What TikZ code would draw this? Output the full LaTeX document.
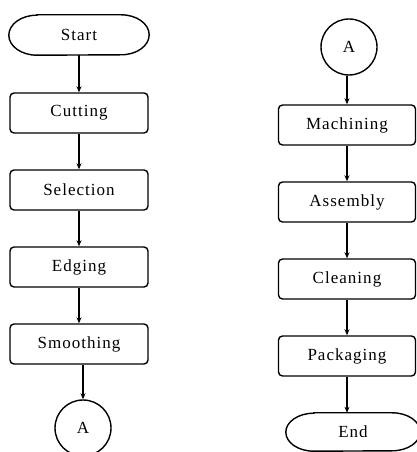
\documentclass[tikz,border=0pt]{standalone}
\usepackage{fontspec}
\setmainfont[LetterSpace=6]{Liberation Serif}
\usetikzlibrary{arrows.meta}
\newcommand\termoutline[1]{%
  \draw[lineset] ([xshift=28pt]#1.north west) -- ([xshift=-28pt]#1.north east)
    arc[start angle=90,end angle=-90,x radius=28pt,y radius=20pt]
    -- ([xshift=28pt]#1.south west)
    arc[start angle=270,end angle=90,x radius=28pt,y radius=20pt] -- cycle;}
\begin{document}
\begin{tikzpicture}[x=1pt,y=1pt,
  lineset/.style={line width=1.4pt,black},
  procbox/.style={draw,line width=1.4pt,rounded corners=4pt,minimum width=138pt,minimum height=40pt,inner sep=0pt,font=\fontsize{17}{19}\selectfont},
  termbox/.style={minimum width=140pt,minimum height=40pt,inner sep=0pt,font=\fontsize{17}{19}\selectfont},
  connbox/.style={draw,circle,line width=1.4pt,minimum size=56pt,inner sep=0pt,font=\fontsize{17}{19}\selectfont},
  flowarrow/.style={line width=1.4pt,-{Stealth[length=6pt,width=5pt]}}]
\useasboundingbox (0,0) rectangle (416,452);
% left column
\node[termbox] (start) at (79,417) {Start};
\termoutline{start}
\node[procbox] (cut) at (79,339) {Cutting};
\node[procbox] (sel) at (79,262) {Selection};
\node[procbox] (edge) at (79,185) {Edging};
\node[procbox] (smooth) at (79,108) {Smoothing};
\node[connbox] (al) at (83,24) {A};
\draw[flowarrow] (start.south -| cut.north) -- (cut.north);
\draw[flowarrow] (cut.south) -- (sel.north);
\draw[flowarrow] (sel.south) -- (edge.north);
\draw[flowarrow] (edge.south) -- (smooth.north);
\draw[flowarrow] (smooth.south -| al.north) -- (al.north);
% right column
\node[connbox] (ar) at (349,405) {A};
\node[procbox,minimum width=137pt] (mach) at (347,327) {Machining};
\node[procbox,minimum width=137pt] (asm) at (347,250) {Assembly};
\node[procbox,minimum width=137pt] (clean) at (347,173) {Cleaning};
\node[procbox,minimum width=137pt] (pack) at (347,96) {Packaging};
\node[termbox,minimum width=134pt,minimum height=38pt] (fin) at (353,20) {End};
\draw[lineset] ([xshift=28pt]fin.north west) -- ([xshift=-28pt]fin.north east)
    arc[start angle=90,end angle=-90,x radius=28pt,y radius=19pt]
    -- ([xshift=28pt]fin.south west)
    arc[start angle=270,end angle=90,x radius=28pt,y radius=19pt] -- cycle;
\draw[flowarrow] (ar.south -| mach.north) -- (mach.north);
\draw[flowarrow] (mach.south) -- (asm.north);
\draw[flowarrow] (asm.south) -- (clean.north);
\draw[flowarrow] (clean.south) -- (pack.north);
\draw[flowarrow] (pack.south) -- (pack.south |- fin.north);
\end{tikzpicture}
\end{document}
